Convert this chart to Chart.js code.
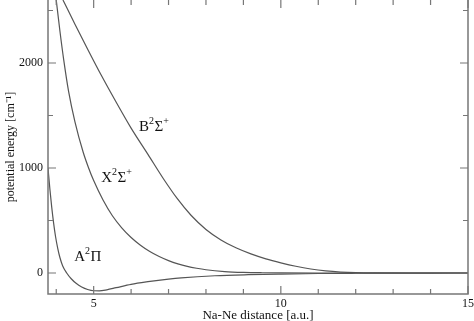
<!DOCTYPE html>
<html>
<head>
<meta charset="utf-8">
<script src="https://cdn.jsdelivr.net/npm/chart.js@4"></script>
<style>
  html, body { margin: 0; padding: 0; background: #fff; }
  #wrap { width: 474px; height: 321px; }
</style>
</head>
<body>
<div id="wrap"><canvas id="pec"></canvas></div>
<script>
// Na-Ne potential curves (x in a.u., y in cm^-1)
const aPiX = [3.78, 3.83, 3.88, 3.93, 3.98, 4.04, 4.1, 4.17, 4.28, 4.4, 4.53, 4.68, 4.84, 5.0, 5.15, 5.35, 5.6, 6.0, 6.45, 7.0, 7.34, 8.24, 9.13, 10, 11, 12, 13, 14, 15];
const aPiY = [1000, 800, 625, 475, 350, 235, 145, 70, 0, -55, -98, -133, -157, -169, -170, -160, -140, -108, -83, -58, -46, -26, -16, -10, -5, -2.5, -1, -0.3, 0];

const xSigX = [4.0, 4.1, 4.2, 4.33, 4.5, 4.72, 4.86, 5.0, 5.25, 5.5, 5.75, 6.0, 6.25, 6.5, 6.75, 7.0, 7.25, 7.5, 7.75, 8.0, 8.5, 9.0, 9.5, 10, 11, 15];
const xSigY = [2600, 2300, 2030, 1730, 1440, 1150, 1005, 880, 695, 545, 430, 338, 265, 205, 157, 118, 87, 63, 45, 31, 14, 6, 2.5, 1, 0, 0];

const bSigX = [4.18, 4.5, 4.85, 5.2, 5.58, 6.0, 6.45, 6.85, 7.23, 7.6, 8.0, 8.4, 8.8, 9.2, 9.6, 10.0, 10.4, 10.8, 11.2, 11.6, 12.0, 12.5, 13.5, 15];
const bSigY = [2600, 2370, 2124, 1885, 1640, 1380, 1130, 905, 710, 550, 415, 315, 240, 182, 135, 97, 64, 38, 20, 9, 3, 0.5, 0, 0];

const xMajor = [5, 10, 15];
const xMinor = [4, 6, 7, 8, 9, 11, 12, 13, 14];
const yMajor = [0, 1000, 2000];
const yMinor = [500, 1500, 2500];

// curve labels: [x, y, parts]
const curveLabels = [
  [6.21, 1352, [['B', 0], ['2', 1], ['\u03A3', 0], ['+', 1]]],
  [5.20, 867, [['X', 0], ['2', 1], ['\u03A3', 0], ['+', 1]]],
  [4.48, 114, [['A', 0], ['2', 1], ['\u03A0', 0]]]
];

const lineColor = '#555';
const axisColor = '#777';
const serif = '"Liberation Serif", "Times New Roman", serif';

function pts(xs, ys) {
  return xs.map((x, i) => ({ x: x, y: ys[i] }));
}

const framePlugin = {
  id: 'frame',
  afterDraw(chart) {
    const ctx = chart.ctx;
    const a = chart.chartArea;
    const sx = chart.scales.x, sy = chart.scales.y;
    ctx.save();
    ctx.strokeStyle = axisColor;
    ctx.lineWidth = 1.5;
    ctx.beginPath();
    ctx.moveTo(a.left, a.top - 2);
    ctx.lineTo(a.left, a.bottom);
    ctx.lineTo(a.right, a.bottom);
    ctx.lineTo(a.right, a.top - 2);
    ctx.stroke();
    ctx.lineWidth = 1.2;
    ctx.beginPath();
    const xt = (v, len) => {
      const p = sx.getPixelForValue(v);
      ctx.moveTo(p, a.bottom); ctx.lineTo(p, a.bottom - len);
      ctx.moveTo(p, a.top); ctx.lineTo(p, a.top + len);
    };
    const yt = (v, len) => {
      const p = sy.getPixelForValue(v);
      ctx.moveTo(a.left, p); ctx.lineTo(a.left + len, p);
      ctx.moveTo(a.right, p); ctx.lineTo(a.right - len, p);
    };
    xMajor.forEach(v => xt(v, 8));
    xMinor.forEach(v => xt(v, 5));
    yMajor.forEach(v => yt(v, 8));
    yMinor.forEach(v => yt(v, 5));
    ctx.stroke();

    // curve labels with superscripts
    ctx.fillStyle = '#111';
    ctx.textBaseline = 'alphabetic';
    curveLabels.forEach(([x, y, parts]) => {
      let px = sx.getPixelForValue(x);
      const py = sy.getPixelForValue(y);
      parts.forEach(([t, sup]) => {
        ctx.font = (sup ? '10px ' : '15px ') + serif;
        ctx.fillText(t, px, sup ? py - 7 : py);
        px += ctx.measureText(t).width + (sup ? 0.5 : 0);
      });
    });
    ctx.restore();
  }
};

new Chart(document.getElementById('pec'), {
  type: 'line',
  data: {
    datasets: [
      { label: 'A2Pi', data: pts(aPiX, aPiY) },
      { label: 'X2Sigma+', data: pts(xSigX, xSigY) },
      { label: 'B2Sigma+', data: pts(bSigX, bSigY) }
    ].map(d => Object.assign(d, {
      borderColor: lineColor, borderWidth: 1.2, pointRadius: 0,
      cubicInterpolationMode: 'monotone', fill: false
    }))
  },
  options: {
    responsive: true,
    maintainAspectRatio: false,
    animation: false,
    layout: { padding: { top: 0, right: 6, left: 0, bottom: 0 } },
    plugins: { legend: { display: false }, tooltip: { enabled: false } },
    scales: {
      x: {
        type: 'linear', min: 3.78, max: 15,
        afterBuildTicks: s => { s.ticks = xMajor.map(v => ({ value: v })); },
        afterFit: s => { s.height = 27; s.paddingLeft = 0; s.paddingRight = 0; },
        grid: { display: false, drawTicks: false },
        border: { display: false },
        ticks: { padding: 3, color: '#111', font: { family: serif, size: 12 }, callback: v => String(v) },
        title: { display: true, text: 'Na-Ne distance [a.u.]', color: '#111', padding: { top: 0, bottom: -2 }, font: { family: serif, size: 13 } }
      },
      y: {
        type: 'linear', min: -200, max: 2600,
        afterBuildTicks: s => { s.ticks = yMajor.map(v => ({ value: v })); },
        afterFit: s => { s.width = 48; s.paddingTop = 0; s.paddingBottom = 0; },
        grid: { display: false, drawTicks: false },
        border: { display: false },
        ticks: { padding: 5, color: '#111', font: { family: serif, size: 12 }, callback: v => String(v) },
        title: { display: true, text: 'potential energy [cm\u207B\u00B9]', color: '#111', padding: { top: 4, bottom: 0 }, font: { family: serif, size: 12 } }
      }
    }
  },
  plugins: [framePlugin]
});
</script>
</body>
</html>
